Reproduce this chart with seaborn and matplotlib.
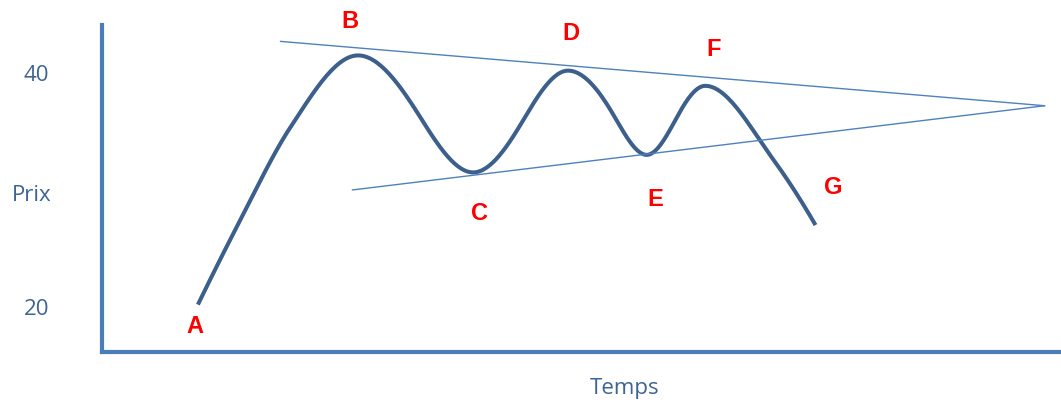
import matplotlib
matplotlib.use("Agg")
import matplotlib.pyplot as plt
import seaborn as sns
import pandas as pd
import numpy as np

# price path: turning points A..G plus a few mid-swing points
temps = [10.0, 14.4, 19.6, 26.7, 33.2, 38.7, 43.8, 48.6, 53.2,
         56.8, 59.8, 62.9, 70.0, 74.4]
prix = [20.2, 27.4, 35.3, 41.5, 36.2, 31.5, 35.8, 40.2, 36.6,
        33.0, 36.0, 38.9, 32.6, 27.0]

# triangle trendlines
haut_t = [18.6, 98.3]
haut_p = [42.7, 37.2]
bas_t = [26.1, 98.3]
bas_p = [30.0, 37.2]

# point labels
points = ["A", "B", "C", "D", "E", "F", "G"]
points_t = [9.7, 25.9, 39.4, 48.9, 57.7, 63.8, 76.2]
points_p = [18.3, 44.4, 28.0, 43.4, 29.2, 42.0, 30.2]


def smooth(xs, ys, n=30):
    # hermite curve through the read points: flat at the turning points,
    # steeper at a mid-swing point sitting between two turning points
    x = np.asarray(xs, float)
    y = np.asarray(ys, float)
    m = len(x)
    h = np.diff(x)
    dl = np.diff(y) / h
    ext = np.zeros(m, bool)
    for k in range(1, m - 1):
        ext[k] = dl[k - 1] * dl[k] < 0
    d = np.zeros(m)
    for k in range(1, m - 1):
        if ext[k]:
            continue
        if ext[k - 1] and ext[k + 1]:
            d[k] = (y[k + 1] - y[k - 1]) / (x[k + 1] - x[k - 1]) * np.pi / 2
        else:
            d[k] = (h[k] * dl[k - 1] + h[k - 1] * dl[k]) / (h[k - 1] + h[k])
    d[0] = dl[0] + (dl[0] - dl[1]) * h[0] / (h[0] + h[1])
    d[-1] = dl[-1] + (dl[-1] - dl[-2]) * h[-1] / (h[-1] + h[-2])
    ox, oy = [], []
    s = np.linspace(0, 1, n, endpoint=False)
    for k in range(m - 1):
        ox.append(x[k] + s * h[k])
        oy.append((2 * s ** 3 - 3 * s ** 2 + 1) * y[k]
                  + (s ** 3 - 2 * s ** 2 + s) * h[k] * d[k]
                  + (-2 * s ** 3 + 3 * s ** 2) * y[k + 1]
                  + (s ** 3 - s ** 2) * h[k] * d[k + 1])
    ox.append([x[-1]])
    oy.append([y[-1]])
    return np.concatenate(ox), np.concatenate(oy)


sns.set_style("white")
plt.rcParams['font.family'] = ['Open Sans', 'DejaVu Sans']

fig = plt.figure(figsize=(10.61, 4.0), dpi=100)
ax = fig.add_axes([102 / 1061, 48 / 400, 959 / 1061, 327 / 400])

sx, sy = smooth(temps, prix)
df = pd.DataFrame({"Temps": sx, "Prix": sy})
sns.lineplot(data=df, x="Temps", y="Prix", sort=False, ax=ax,
             color="#3d5f8c", linewidth=2.9, solid_capstyle="butt")
sns.lineplot(x=haut_t, y=haut_p, ax=ax, color="#4f81bd", linewidth=1.0)
sns.lineplot(x=bas_t, y=bas_p, ax=ax, color="#4f81bd", linewidth=1.0)

for lab, t, p in zip(points, points_t, points_p):
    ax.text(t, p, lab, color="#ff0000", fontsize=17, fontweight="bold",
            family="Liberation Sans", ha="center", va="center", clip_on=False)

ax.set_xlim(0, 100)
ax.set_ylim(16.15, 44.1)

for side in ["top", "right"]:
    ax.spines[side].set_visible(False)
for side in ["left", "bottom"]:
    ax.spines[side].set_color("#4a7ebb")
    ax.spines[side].set_linewidth(3.0)

txt_col = "#3f6494"
ax.set_xticks([])
ax.set_yticks([20, 40])
ax.set_yticklabels(["20", "40"], fontsize=16, color=txt_col)
ax.tick_params(axis="y", length=0, pad=38)

ax.set_ylabel("Prix", fontsize=16, color=txt_col, rotation=0,
              ha="center", va="center")
ax.yaxis.set_label_coords(-0.073, 0.48)
ax.set_xlabel("Temps", fontsize=16, color=txt_col, va="top")
ax.xaxis.set_label_coords(0.545, -0.08)

fig.savefig("out.png", dpi=100)
plt.close(fig)
